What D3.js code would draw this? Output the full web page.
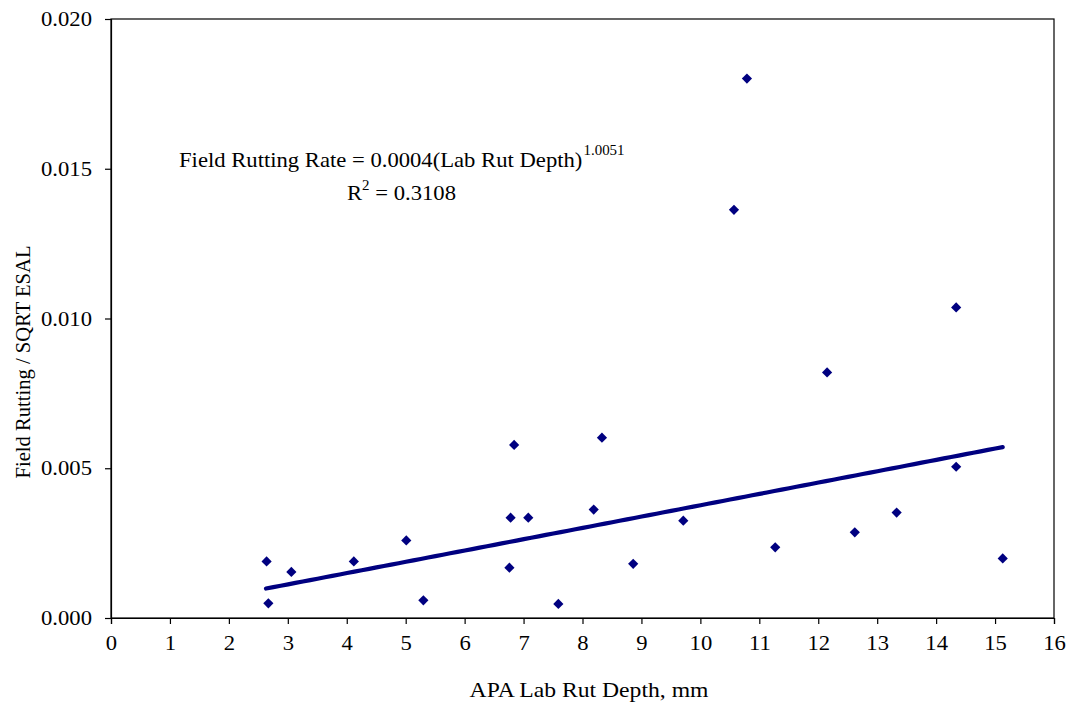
<!DOCTYPE html>
<html>
<head>
<meta charset="utf-8">
<script src="https://cdn.jsdelivr.net/npm/d3@7"></script>
<style>
  html, body { margin: 0; padding: 0; background: #fff; }
  svg text { font-family: "Liberation Serif", "Times New Roman", serif; fill: #000; }
</style>
</head>
<body>
<svg id="chart" width="1072" height="707"></svg>
<script>
// APA lab rut depth (mm) for each section
const labRutDepth = [2.64, 2.67, 3.06, 4.12, 5.01, 5.30, 6.76, 6.78, 6.84, 7.08, 7.59, 8.19, 8.33,
  8.86, 9.71, 10.57, 10.79, 11.27, 12.15, 12.62, 13.33, 14.34, 14.34, 15.13];
// Field rutting normalised by the square root of ESALs
const fieldRutRate = [0.00189, 0.00049, 0.00154, 0.00189, 0.00259, 0.00059, 0.00168, 0.00335, 0.00578,
  0.00335, 0.00047, 0.00362, 0.00602, 0.00181, 0.00325, 0.01363, 0.01801, 0.00236, 0.00820,
  0.00286, 0.00352, 0.01037, 0.00505, 0.00199];

// Power trend line y = a * x^b
const trendCoef = 0.000372;
const trendExp = 1.0051;
const trendR2 = 0.3108;
const trendXRange = [2.63, 15.13];

const xTicks = d3.range(0, 17, 1);
const yTicks = [0, 0.005, 0.010, 0.015, 0.020];

const svg = d3.select("#chart");
const margin = { left: 111, right: 18, top: 19, bottom: 89 };
const W = 1072, H = 707;
const FONT = 20.6;      // base text size
const STRETCH = 1.1;    // horizontal text widening

const x = d3.scaleLinear().domain([0, 16]).range([margin.left, W - margin.right]);
const y = d3.scaleLinear().domain([0, 0.020]).range([H - margin.bottom, margin.top]);

// plot frame
svg.append("rect")
  .attr("x", x(0)).attr("y", y(0.020))
  .attr("width", x(16) - x(0)).attr("height", y(0) - y(0.020))
  .attr("fill", "none").attr("stroke", "#000").attr("stroke-width", 1.2);

// x axis
const xAxis = svg.append("g")
  .attr("transform", `translate(0,${y(0)})`)
  .call(d3.axisBottom(x).tickValues(xTicks).tickFormat(d3.format("d")).tickSizeOuter(0).tickSize(6).tickPadding(11));
xAxis.select(".domain").attr("stroke", "#000").attr("stroke-width", 1.2);
xAxis.selectAll(".tick line").attr("stroke", "#000").attr("stroke-width", 1.2);
xAxis.selectAll("text").attr("font-size", FONT).attr("font-family", "Liberation Serif")
  .attr("fill", "#000").attr("transform", `scale(${STRETCH},1)`);

// y axis
const yAxis = svg.append("g")
  .attr("transform", `translate(${x(0)},0)`)
  .call(d3.axisLeft(y).tickValues(yTicks).tickFormat(d3.format(".3f")).tickSizeOuter(0).tickSize(6).tickPadding(11.3));
yAxis.select(".domain").attr("stroke", "#000").attr("stroke-width", 1.2);
yAxis.selectAll(".tick line").attr("stroke", "#000").attr("stroke-width", 1.2);
yAxis.selectAll("text").attr("font-size", FONT).attr("font-family", "Liberation Serif")
  .attr("fill", "#000").attr("transform", `scale(${STRETCH},1)`);

// axis titles
svg.append("text")
  .attr("transform", `translate(589,697) scale(${STRETCH},1)`)
  .attr("text-anchor", "middle").attr("font-size", 21.5)
  .text("APA Lab Rut Depth, mm");

svg.append("text")
  .attr("transform", `translate(30,362) rotate(-90)`)
  .attr("text-anchor", "middle").attr("font-size", FONT)
  .text("Field Rutting / SQRT ESAL");

// trend line
const trendPts = d3.range(0, 101).map(i => {
  const xv = trendXRange[0] + (trendXRange[1] - trendXRange[0]) * i / 100;
  return [xv, trendCoef * Math.pow(xv, trendExp)];
});
svg.append("path")
  .datum(trendPts)
  .attr("d", d3.line().x(d => x(d[0])).y(d => y(d[1])))
  .attr("fill", "none").attr("stroke", "#000080").attr("stroke-width", 4.2)
  .attr("stroke-linecap", "round");

// data markers (diamonds)
svg.append("g").selectAll("path")
  .data(labRutDepth.map((d, i) => [d, fieldRutRate[i]]))
  .join("path")
  .attr("transform", d => `translate(${x(d[0])},${y(d[1])}) rotate(45)`)
  .attr("d", d3.symbol().type(d3.symbolSquare).size(52))
  .attr("fill", "#000080");

// equation annotation
const eq = svg.append("text")
  .attr("transform", `translate(179,167) scale(${STRETCH},1)`)
  .attr("font-size", FONT);
eq.append("tspan").text(`Field Rutting Rate = ${trendCoef.toFixed(4)}(Lab Rut Depth)`);
eq.append("tspan").attr("dx", 1).attr("dy", -12).attr("font-size", 13.6).text(trendExp.toFixed(4));

const r2 = svg.append("text")
  .attr("transform", `translate(347,200) scale(${STRETCH},1)`)
  .attr("font-size", FONT);
r2.append("tspan").text("R");
r2.append("tspan").attr("dy", -10).attr("font-size", 13.6).text("2");
r2.append("tspan").attr("dy", 10).text(` = ${trendR2.toFixed(4)}`);
</script>
</body>
</html>
